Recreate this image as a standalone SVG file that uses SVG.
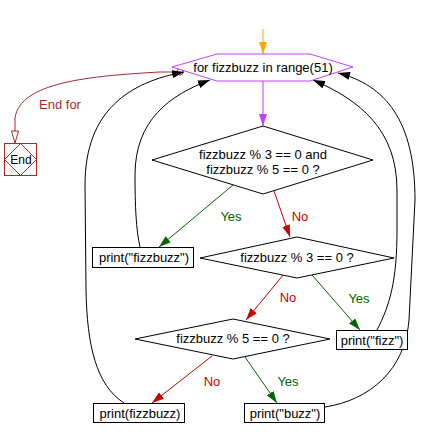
<svg xmlns="http://www.w3.org/2000/svg" width="422" height="438" viewBox="0 0 422 438">
<style>
text{font-family:"Liberation Sans",Arial,sans-serif;font-size:13px;text-anchor:middle;}
.n{fill:#fff;stroke:#000;stroke-width:1;}
.c{fill:none;stroke:#000;stroke-width:1;}
.yes{fill:none;stroke:#006400;stroke-width:1;}
.no{fill:none;stroke:#cc0000;stroke-width:1;}
.ty{fill:#006400;}
.tn{fill:#cc0000;}
</style>
<defs>
<marker id="ab" viewBox="0 0 12 8" refX="12" refY="4" markerWidth="12" markerHeight="8" markerUnits="userSpaceOnUse" orient="auto"><path d="M0,0 L12,4 L0,8 z" fill="#000"/></marker>
<marker id="ag" viewBox="0 0 12 8" refX="12" refY="4" markerWidth="12" markerHeight="8" markerUnits="userSpaceOnUse" orient="auto"><path d="M0,0 L12,4 L0,8 z" fill="#006400"/></marker>
<marker id="ar" viewBox="0 0 12 8" refX="12" refY="4" markerWidth="12" markerHeight="8" markerUnits="userSpaceOnUse" orient="auto"><path d="M0,0 L12,4 L0,8 z" fill="#cc0000"/></marker>
<marker id="ap" viewBox="0 0 12 8" refX="12" refY="4" markerWidth="12" markerHeight="8" markerUnits="userSpaceOnUse" orient="auto"><path d="M0,0 L12,4 L0,8 z" fill="#c040ff"/></marker>
<marker id="ao" viewBox="0 0 12 8" refX="12" refY="4" markerWidth="12" markerHeight="8" markerUnits="userSpaceOnUse" orient="auto"><path d="M0,0 L12,4 L0,8 z" fill="#ffa500"/></marker>
<marker id="aw" viewBox="0 0 14 8" refX="13" refY="4" markerWidth="14" markerHeight="8" markerUnits="userSpaceOnUse" orient="auto"><path d="M1,0.5 L13,4 L1,7.5 z" fill="#fff" stroke="#a52a2a"/></marker>
</defs>
<g id="connectors">
<path d="M263,29 L263,54" stroke="#ffa500" fill="none" marker-end="url(#ao)"/>
<path d="M263,81 L263,126" stroke="#c040ff" fill="none" marker-end="url(#ap)"/>
<path d="M180,72 L160,72 C90,76 20,82 15,118 L15,143" stroke="#a52a2a" fill="none" marker-end="url(#aw)"/>
<circle cx="180" cy="72" r="3" fill="#fff" stroke="#a52a2a"/>
<text x="60" y="109" fill="#a52a2a">End for</text>
<path class="yes" d="M233,185 L159,247" marker-end="url(#ag)"/>
<text class="ty" x="231" y="221">Yes</text>
<path class="no" d="M274,191 L290,237" marker-end="url(#ar)"/>
<text class="tn" x="300" y="221">No</text>
<path class="no" d="M284,274 L246,320" marker-end="url(#ar)"/>
<text class="tn" x="288" y="302">No</text>
<path class="yes" d="M312,275 L360,330" marker-end="url(#ag)"/>
<text class="ty" x="359" y="303">Yes</text>
<path class="no" d="M212,356 L152,403" marker-end="url(#ar)"/>
<text class="tn" x="212" y="386">No</text>
<path class="yes" d="M245,357 L277,403" marker-end="url(#ag)"/>
<text class="ty" x="288" y="386">Yes</text>
<path class="c" d="M124,403 C96,385 87,345 86,290 L85,185 C85,110 130,82 184,72" marker-end="url(#ab)"/>
<path class="c" d="M140,247 C136,230 135,205 135,175 C135,120 170,95 210,80" marker-end="url(#ab)"/>
<path class="c" d="M377,330 C390,305 397,280 397,230 L397,190 C397,130 360,100 313,80" marker-end="url(#ab)"/>
<path class="c" d="M325,407 C370,400 405,370 409,320 L415,200 C415,120 385,85 338,73" marker-end="url(#ab)"/>
</g>
<g id="loop">
<polygon points="172,67 217,54 310,54 353,67 310,81 217,81" fill="#fff" stroke="#c040ff"/>
<text x="263" y="72">for fizzbuzz in range(51)</text>
</g>
<g id="end">
<rect x="4.5" y="143.5" width="32" height="32" fill="#fff" stroke="#a52a2a"/>
<polygon points="20.5,143.5 36.5,159.5 20.5,175.5 4.5,159.5" fill="none" stroke="#a52a2a"/>
<text x="21" y="164" style="font-size:12px">End</text>
</g>
<g id="cond1">
<polygon class="n" points="263,126 373,160 263,194 152,160"/>
<text x="263" y="159">fizzbuzz % 3 == 0 and</text>
<text x="263" y="174">fizzbuzz % 5 == 0 ?</text>
</g>
<g id="printfizzbuzzstr">
<rect class="n" x="92.5" y="247.5" width="101" height="20"/>
<text x="144" y="262">print("fizzbuzz")</text>
</g>
<g id="cond2">
<polygon class="n" points="297,237 394,258 297,278 200,258"/>
<text x="297" y="262">fizzbuzz % 3 == 0 ?</text>
</g>
<g id="printfizz">
<rect class="n" x="336.5" y="330.5" width="71" height="19"/>
<text x="372" y="345">print("fizz")</text>
</g>
<g id="cond3">
<polygon class="n" points="233,319 330,339 233,359 135,339"/>
<text x="233" y="343">fizzbuzz % 5 == 0 ?</text>
</g>
<g id="printfizzbuzz">
<rect class="n" x="93.5" y="403.5" width="91" height="19"/>
<text x="140" y="418">print(fizzbuzz)</text>
</g>
<g id="printbuzz">
<rect class="n" x="244.5" y="403.5" width="80" height="19"/>
<text x="285" y="418">print("buzz")</text>
</g>
</svg>
